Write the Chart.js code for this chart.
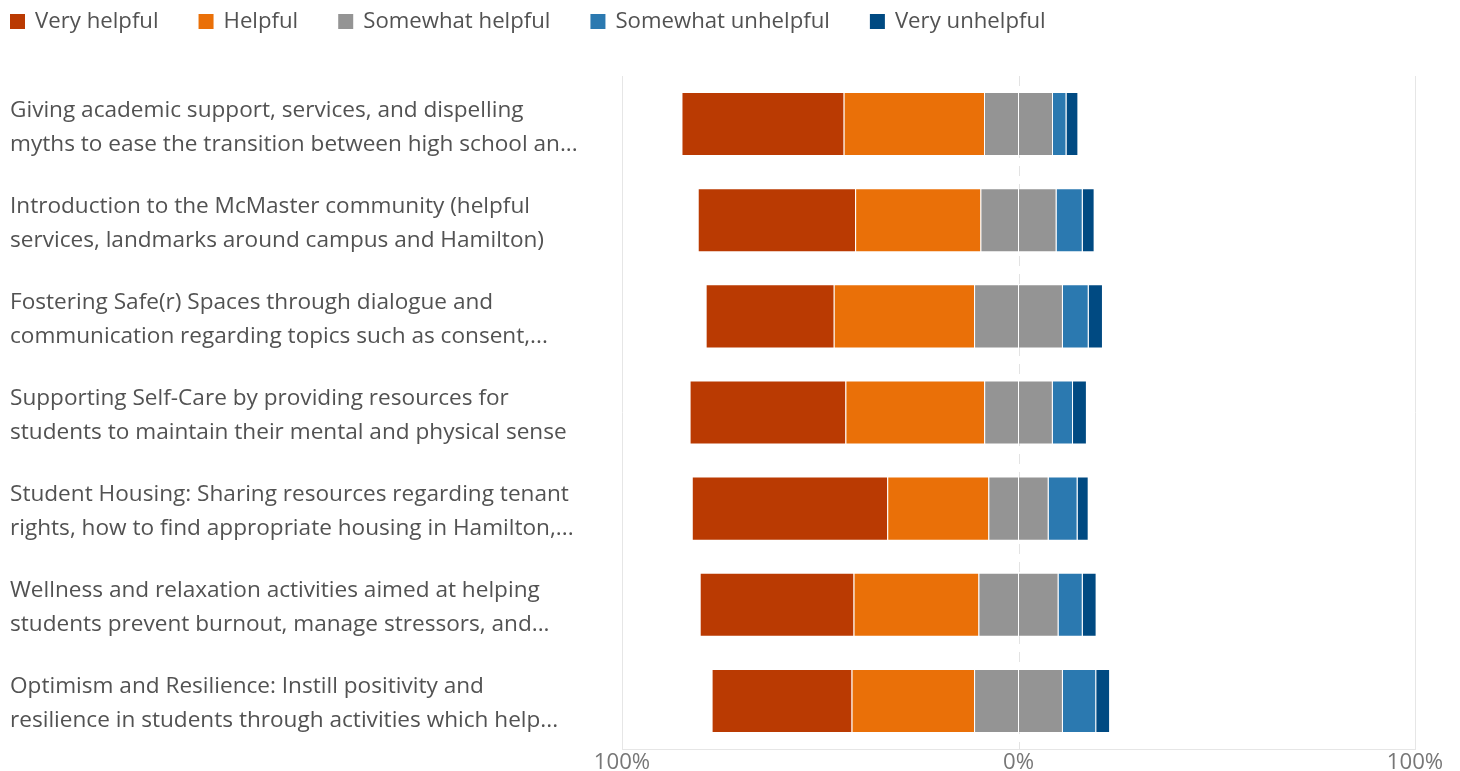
<!DOCTYPE html>
<html><head><meta charset="utf-8">
<script src="https://cdn.jsdelivr.net/npm/chart.js@4/dist/chart.umd.min.js"></script>
<style>html,body{margin:0;padding:0;background:#fff;}#wrap{width:1460px;height:771px;position:relative;}</style>
</head><body><div id="wrap"><canvas id="c"></canvas></div>
<script>
const categories = [
  ["Giving academic support, services, and dispelling", "myths to ease the transition between high school an..."],
  ["Introduction to the McMaster community (helpful", "services, landmarks around campus and Hamilton)"],
  ["Fostering Safe(r) Spaces through dialogue and", "communication regarding topics such as consent,..."],
  ["Supporting Self-Care by providing resources for", "students to maintain their mental and physical sense"],
  ["Student Housing: Sharing resources regarding tenant", "rights, how to find appropriate housing in Hamilton,..."],
  ["Wellness and relaxation activities aimed at helping", "students prevent burnout, manage stressors, and..."],
  ["Optimism and Resilience: Instill positivity and", "resilience in students through activities which help..."]
];
const seriesNames = ["Very helpful", "Helpful", "Somewhat helpful", "Somewhat unhelpful", "Very unhelpful"];
const veryHelpful       = [40.9, 39.7, 32.3, 39.3, 49.3, 38.8, 35.3];
const helpful           = [35.4, 31.6, 35.4, 35.0, 25.5, 31.5, 30.9];
const somewhatHelpful   = [17.4, 19.2, 22.4, 17.3, 15.2, 20.2, 22.4];
const somewhatUnhelpful = [3.4, 6.6, 6.5, 5.1, 7.3, 6.1, 8.4];
const veryUnhelpful     = [3.0, 3.0, 3.6, 3.5, 2.8, 3.5, 3.5];
const xTickValues = [-100, 0, 100];
const xTickLabels = ["100%", "0%", "100%"];

const colors = ["#BA3A02", "#EA7008", "#949494", "#2B79B0", "#004A82"];
const FONT = '"Open Sans", "Noto Sans", sans-serif';
const FS = 22.6;
const LEG_FS = 22.2;
const textColor = '#525252';

const border = 'rgba(255,255,255,0.35)';
function ds(label, data, color) {
  return { label, data, backgroundColor: color, borderColor: border, borderWidth: 1, stack: 's' };
}
const datasets = [
  ds(seriesNames[2], somewhatHelpful.map(v => -v / 2), colors[2]),
  ds(seriesNames[1], helpful.map(v => -v), colors[1]),
  ds(seriesNames[0], veryHelpful.map(v => -v), colors[0]),
  ds(seriesNames[2], somewhatHelpful.map(v => v / 2), colors[2]),
  ds(seriesNames[3], somewhatUnhelpful, colors[3]),
  ds(seriesNames[4], veryUnhelpful, colors[4])
];

const topLegend = {
  id: 'topLegend',
  afterDraw(chart) {
    const ctx = chart.ctx;
    ctx.save();
    ctx.font = LEG_FS + 'px ' + FONT;
    ctx.textBaseline = 'middle';
    ctx.textAlign = 'left';
    let x = 10; const y = 22;
    seriesNames.forEach((name, i) => {
      ctx.fillStyle = colors[i];
      ctx.fillRect(x, y - 8, 15, 15);
      ctx.fillStyle = textColor;
      ctx.fillText(name, x + 25, y);
      x += 25 + ctx.measureText(name).width + 40;
    });
    ctx.restore();
  }
};

const zeroLine = {
  id: 'zeroLine',
  beforeDatasetsDraw(chart) {
    const ctx = chart.ctx, a = chart.chartArea;
    const x = Math.round(chart.scales.x.getPixelForValue(0)) + 0.5;
    ctx.save();
    ctx.strokeStyle = '#e3e3e3';
    ctx.lineWidth = 1;
    ctx.setLineDash([10, 8]);
    ctx.beginPath();
    ctx.moveTo(x, a.top);
    ctx.lineTo(x, a.bottom);
    ctx.stroke();
    ctx.restore();
  }
};

new Chart(document.getElementById('c'), {
  type: 'bar',
  data: { labels: categories, datasets },
  plugins: [topLegend, zeroLine],
  options: {
    indexAxis: 'y',
    responsive: true,
    maintainAspectRatio: false,
    animation: false,
    layout: { padding: { left: 10, top: 76, right: 45, bottom: 0 } },
    plugins: { legend: { display: false }, tooltip: { enabled: false } },
    datasets: { bar: { barPercentage: 1, categoryPercentage: 64 / 96 } },
    scales: {
      x: {
        type: 'linear', stacked: true, min: -100, max: 100,
        afterBuildTicks: s => { s.ticks = xTickValues.map(v => ({ value: v })); },
        afterFit: s => { s.height = 22; s.paddingLeft = 0; s.paddingRight = 0; },
        ticks: {
          callback: (v) => xTickLabels[xTickValues.indexOf(v)],
          color: '#777777', font: { family: FONT, size: 22.2 }, padding: 0, maxRotation: 0
        },
        grid: {
          drawTicks: false,
          color: c => (c.tick && c.tick.value === 0) ? 'rgba(0,0,0,0)' : '#e6e6e6'
        },
        border: { display: true, color: '#e6e6e6' }
      },
      y: {
        stacked: true,
        afterFit: s => { s.width = 612; s.paddingTop = 0; s.paddingBottom = 0; },
        grid: { display: false, drawTicks: false },
        border: { display: false },
        ticks: {
          crossAlign: 'far', autoSkip: false, color: textColor, labelOffset: 3,
          font: { family: FONT, size: FS, lineHeight: 34 / FS }
        }
      }
    }
  }
});
</script>
</body></html>
